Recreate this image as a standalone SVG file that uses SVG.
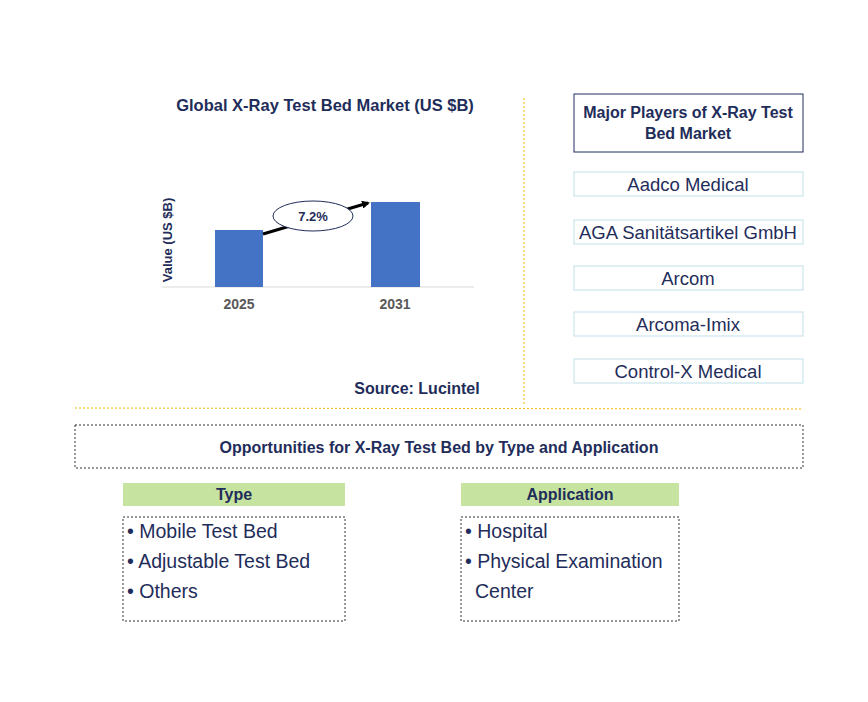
<svg xmlns="http://www.w3.org/2000/svg" width="868" height="702" viewBox="0 0 868 702">
<style>
text{font-family:"Liberation Sans",Arial,sans-serif}
.b{font-weight:bold;fill:#1f2d5a}
.pl{fill:#fff;stroke:#bfe0ea;stroke-width:1}
.plt{font-size:18.5px;fill:#1f2d5a;text-anchor:middle}
.it{font-size:19.5px;fill:#1f2d5a}
.dash{fill:#fff;stroke:#333;stroke-width:1;stroke-dasharray:2,2}
.hd{fill:#c6e3a0}
</style>
<defs><marker id="ah" markerWidth="8" markerHeight="8" refX="6" refY="4" orient="auto" markerUnits="userSpaceOnUse"><path d="M0,0L8,4L0,8z" fill="#000"/></marker></defs>
<rect width="868" height="702" fill="#fff"/>
<g id="chart">
<text x="325" y="111" class="b" font-size="16.5" text-anchor="middle">Global X-Ray Test Bed Market (US $B)</text>
<text transform="translate(172,240) rotate(-90)" class="b" font-size="13" text-anchor="middle">Value (US $B)</text>
<line x1="162" y1="287" x2="474" y2="287" stroke="#d9d9d9"/>
<rect x="215" y="230" width="48" height="57" fill="#4472c4"/>
<rect x="371" y="202" width="49" height="85" fill="#4472c4"/>
<text x="239" y="309" font-size="14" font-weight="bold" fill="#595959" text-anchor="middle">2025</text>
<text x="395" y="309" font-size="14" font-weight="bold" fill="#595959" text-anchor="middle">2031</text>
<text x="417" y="394" class="b" font-size="16" text-anchor="middle">Source: Lucintel</text>
</g>
<g id="connectors">
<line x1="263" y1="234" x2="368" y2="203" stroke="#000" stroke-width="3" marker-end="url(#ah)"/>
<line x1="524" y1="98" x2="524" y2="406" stroke="#f2b800" stroke-dasharray="2,2"/>
<line x1="75" y1="408" x2="803" y2="409" stroke="#f2b800" stroke-dasharray="2,2"/>
</g>
<g id="cagr"><ellipse cx="313" cy="216" rx="40" ry="15" fill="#fff" stroke="#1f2d5a"/><text x="313" y="221" class="b" font-size="13" text-anchor="middle">7.2%</text></g>
<g id="players">
<rect x="574" y="94" width="229" height="58" fill="#fff" stroke="#1f2d5a"/>
<text x="688" y="118" class="b" font-size="16" text-anchor="middle">Major Players of X-Ray Test</text>
<text x="688" y="139" class="b" font-size="16" text-anchor="middle">Bed Market</text>
<rect class="pl" x="574" y="172" width="229" height="24"/><text class="plt" x="688" y="191">Aadco Medical</text>
<rect class="pl" x="574" y="220" width="229" height="24"/><text class="plt" x="688" y="239">AGA Sanitätsartikel GmbH</text>
<rect class="pl" x="574" y="266" width="229" height="24"/><text class="plt" x="688" y="285">Arcom</text>
<rect class="pl" x="574" y="312" width="229" height="24"/><text class="plt" x="688" y="331">Arcoma-Imix</text>
<rect class="pl" x="574" y="359" width="229" height="24"/><text class="plt" x="688" y="378">Control-X Medical</text>
</g>
<g id="opps"><rect class="dash" x="75" y="425" width="728" height="43"/><text x="439" y="453" class="b" font-size="16" text-anchor="middle">Opportunities for X-Ray Test Bed by Type and Application</text></g>
<g id="type">
<rect class="hd" x="123" y="483" width="222" height="23"/><text x="234" y="500" class="b" font-size="16" text-anchor="middle">Type</text>
<rect class="dash" x="123" y="517" width="222" height="104"/>
<text class="it" x="127" y="538">• Mobile Test Bed</text>
<text class="it" x="127" y="568">• Adjustable Test Bed</text>
<text class="it" x="127" y="598">• Others</text>
</g>
<g id="application">
<rect class="hd" x="461" y="483" width="218" height="23"/><text x="570" y="500" class="b" font-size="16" text-anchor="middle">Application</text>
<rect class="dash" x="461" y="517" width="218" height="104"/>
<text class="it" x="465" y="538">• Hospital</text>
<text class="it" x="465" y="568">• Physical Examination</text>
<text class="it" x="475" y="598">Center</text>
</g>
</svg>
